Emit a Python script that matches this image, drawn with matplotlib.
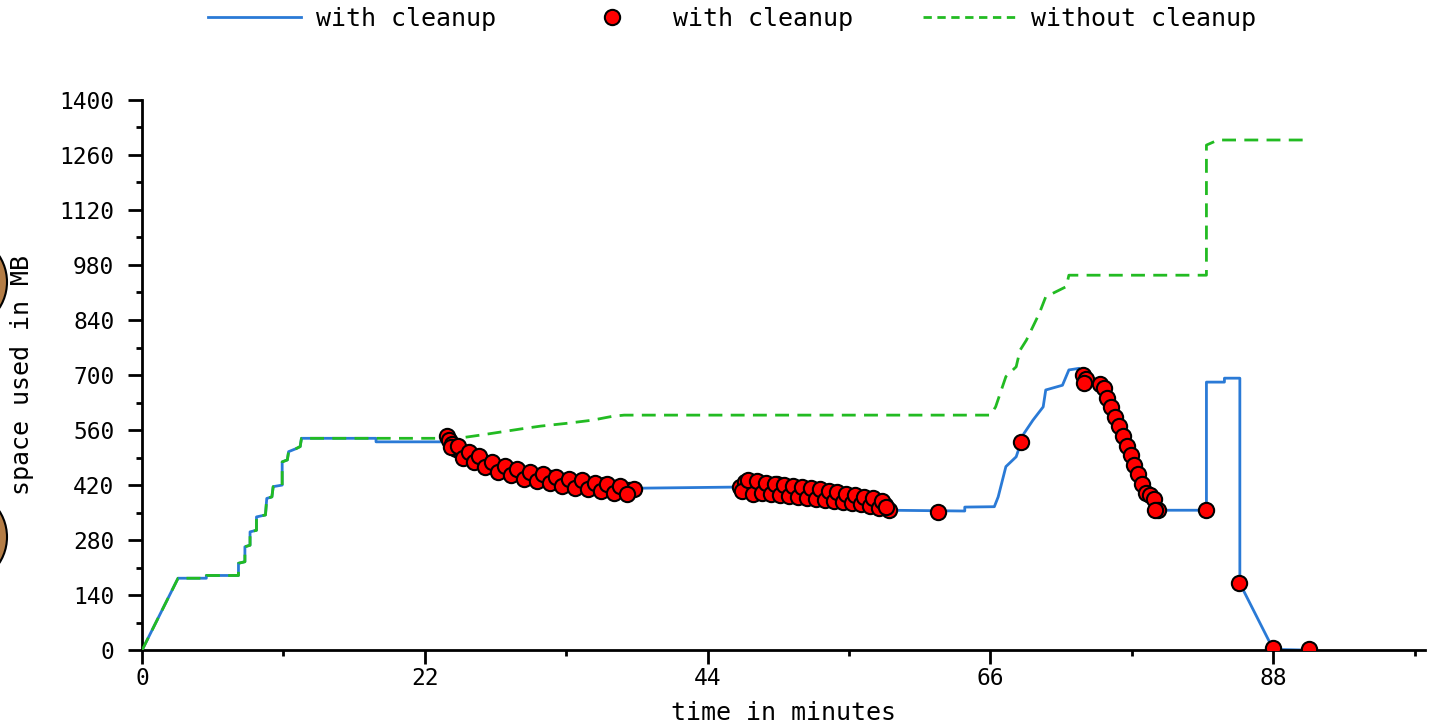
"""
Disk space used over time, with and without cleanup.
"""

import matplotlib
matplotlib.use("Agg")
import matplotlib.pyplot as plt
from matplotlib.lines import Line2D
from matplotlib.patches import Ellipse

#---------------------------------------
# Data
#---------------------------------------

# with cleanup - line
blue_t = [0, 2.8, 5.0, 5.0, 7.5, 7.5, 8.0, 8.0, 8.4, 8.4, 8.9, 8.9, 9.6, 9.7, 10.1, 10.2,
          10.9, 10.9, 11.3, 11.4, 12.0, 12.3, 12.4, 18.2, 18.2, 23.6, 23.9, 26.3, 28.8,
          31.5, 34.0, 36.6, 38.4, 46.4, 48.8, 52.7, 56.6, 58.1, 64.0, 64.0, 66.3, 66.6,
          67.2, 68.0, 68.6, 69.3, 70.1, 70.3, 71.6, 72.1, 72.9, 73.3, 74.7, 76.6, 78.0,
          79.0, 82.8, 82.8, 84.2, 84.2, 85.4, 85.4, 88.0, 90.8]
blue_mb = [0, 183, 183, 190, 190, 221, 225, 263, 267, 301, 305, 339, 344, 386, 390, 416,
           420, 479, 484, 505, 513, 518, 539, 539, 530, 530, 534, 484, 458,
           438, 425, 412, 412, 415, 412, 400, 385, 356, 354, 364, 365, 390,
           467, 492, 551, 585, 619, 662, 674, 713, 717, 700, 674, 520, 415,
           356, 356, 682, 682, 692, 692, 170, 2, 0]

# with cleanup - points (first burst of cleanups)
burst1_t = [23.7, 23.9, 24.1, 24.4, 24.8, 25.2, 25.6, 26.0, 26.5, 27.0, 27.4, 27.9, 28.4,
            28.9, 29.4, 29.9, 30.4, 30.9, 31.4, 31.9, 32.4, 32.9, 33.4, 33.9, 34.4, 34.9,
            35.4, 35.9, 36.4, 36.9, 37.4, 37.9, 38.3,
            24.0, 24.6, 25.0, 25.4, 25.8, 26.2, 26.7, 27.2, 27.7, 28.2, 28.7, 29.2, 29.7,
            30.2, 30.7, 31.2, 31.7, 32.2, 32.7, 33.2, 33.7, 34.2, 34.7, 35.2, 35.7, 36.2,
            36.7, 37.2, 37.7]
burst1_mb = [545, 535, 525, 512, 505, 497, 492, 485, 478, 472, 468, 463, 458,
             454, 450, 446, 444, 440, 436, 438, 431, 430, 427, 424, 423, 420,
             417, 419, 414, 413, 410, 407, 410,
             518, 520, 490, 503, 478, 493, 466, 478, 453, 468, 445, 460, 436,
             453, 430, 447, 425, 441, 418, 436, 413, 432, 409, 426, 405, 422,
             400, 418, 397]

# second burst of cleanups
burst2_t = [46.5, 46.9, 47.3, 47.6, 48.0, 48.3, 48.7, 49.0, 49.4, 49.7, 50.1, 50.4, 50.8,
            51.1, 51.5, 51.8, 52.2, 52.5, 52.9, 53.2, 53.6, 53.9, 54.3, 54.6, 55.0, 55.3,
            55.7, 56.0, 56.4, 56.7, 57.1, 57.4, 57.8, 58.1,
            46.7, 47.1, 47.5, 47.8, 48.2, 48.5, 48.9, 49.2, 49.6, 49.9, 50.3, 50.6, 51.0,
            51.3, 51.7, 52.0, 52.4, 52.7, 53.1, 53.4, 53.8, 54.1, 54.5, 54.8, 55.2, 55.5,
            55.9, 56.2, 56.6, 56.9, 57.3, 57.6, 57.9]
burst2_mb = [415, 428, 420, 408, 425, 412, 418, 405, 422, 410, 415, 402, 412,
             400, 408, 396, 405, 394, 400, 390, 398, 386, 394, 383, 390, 380,
             386, 375, 383, 372, 378, 368, 370, 356,
             404, 432, 398, 430, 400, 426, 397, 424, 395, 420, 393, 418, 390,
             415, 388, 412, 385, 410, 382, 406, 380, 402, 377, 398, 374, 395,
             371, 390, 366, 386, 362, 380, 365]

# third burst and single cleanups
other_t = [61.9, 68.4,
           73.2, 73.4, 73.3, 74.5, 74.8, 75.1, 75.4, 75.7, 76.0, 76.3, 76.6, 76.9, 77.2,
           77.5, 77.8, 78.1, 78.4, 78.7, 79.0, 78.8,
           82.8, 85.35, 88.0, 90.8]
other_mb = [352, 530,
            700, 690, 680, 676, 666, 642, 618, 594, 570, 545, 520, 496, 472,
            447, 423, 400, 395, 385, 356, 356,
            356, 172, 5, 2]

# without cleanup
green_t = [0, 2.8, 5.0, 5.0, 7.5, 7.5, 8.0, 8.0, 8.4, 8.4, 8.9, 8.9, 9.6, 9.7, 10.1, 10.2,
           10.9, 10.9, 11.3, 11.4, 12.0, 12.3, 12.4, 23.4, 25.0, 26.5, 28.1, 29.5, 31.0,
           33.0, 35.0, 36.6, 37.5, 66.0, 66.4, 67.2, 68.0, 68.3, 68.8, 69.3, 69.8, 70.3,
           71.1, 71.9, 72.1, 82.8, 82.8, 83.7, 90.8]
green_mb = [0, 183, 183, 190, 190, 221, 225, 263, 267, 301, 305, 339, 344, 386, 390, 416,
            420, 479, 484, 505, 513, 518, 539, 539, 541, 548, 556, 563, 570,
            577, 585, 595, 598, 598, 619, 696, 721, 763, 789, 823, 857, 899,
            912, 925, 954, 954, 1285, 1298, 1298]

x_ticks = [0, 22, 44, 66, 88]
y_ticks = [0, 140, 280, 420, 560, 700, 840, 980, 1120, 1260, 1400]

blue = "#2a7ad6"
green = "#22bb22"
font = "DejaVu Sans Mono"

mark_t = burst1_t + burst2_t + other_t
mark_mb = burst1_mb + burst2_mb + other_mb

#---------------------------------------
# Plot
#---------------------------------------
fig = plt.figure(figsize=(14.35, 7.24), dpi=100)
ax = fig.add_axes([0.099, 0.102, 0.894, 0.760])

ax.plot(blue_t, blue_mb, color=blue, linewidth=2, zorder=2)
ax.plot(green_t, green_mb, color=green, linewidth=2, dashes=(5, 3), zorder=3)
ax.plot(mark_t, mark_mb, linestyle='none', marker='o', markersize=11,
        markerfacecolor='red', markeredgecolor='black', markeredgewidth=1.5, zorder=4)

ax.set_xlim(0, 99.8)
ax.set_ylim(0, 1400)
ax.set_xticks(x_ticks)
ax.set_xticks([11, 33, 55, 77, 99], minor=True)
ax.set_yticks(y_ticks)
ax.set_yticks([70 + 140 * i for i in range(10)], minor=True)
ax.set_xticklabels([str(t) for t in x_ticks], fontname=font, fontsize=16.5)
ax.set_yticklabels([str(t) for t in y_ticks], fontname=font, fontsize=16.5)

ax.tick_params(axis='both', which='major', length=10, width=2, direction='out')
ax.tick_params(axis='both', which='minor', length=4, width=2, direction='out')
ax.tick_params(axis='x', which='major', pad=2)
ax.tick_params(axis='y', which='major', pad=10)

# Hide the top and right spines
ax.spines['top'].set_visible(False)
ax.spines['right'].set_visible(False)
ax.spines['left'].set_linewidth(2)
ax.spines['bottom'].set_linewidth(2)

ax.set_xlabel('time in minutes', fontname=font, fontsize=18, labelpad=8)
ax.set_ylabel('space used in MB', fontname=font, fontsize=18, labelpad=18)

# Legend across the top
handles = [
    Line2D([], [], color=blue, linewidth=2),
    Line2D([], [], linestyle='none', marker='o', markersize=11, markerfacecolor='red',
           markeredgecolor='black', markeredgewidth=1.5),
    Line2D([], [], color=green, linewidth=2, dashes=(3, 2)),
]
labels = ['with cleanup', 'with cleanup', 'without cleanup']
fig.legend(handles, labels, loc='center', bbox_to_anchor=(0.51, 0.974), ncol=3,
           frameon=False, prop={'family': font, 'size': 18}, handlelength=3.7,
           handletextpad=0.6, columnspacing=2.8)

# Brown circles cut off at the left edge
for cy in [282, 537]:
    fig.add_artist(Ellipse((-41 / 1435, 1 - cy / 724), 96 / 1435, 96 / 724,
                           facecolor='#b47d46', edgecolor='black', linewidth=1.5))

plt.savefig('out.png', dpi=100)
